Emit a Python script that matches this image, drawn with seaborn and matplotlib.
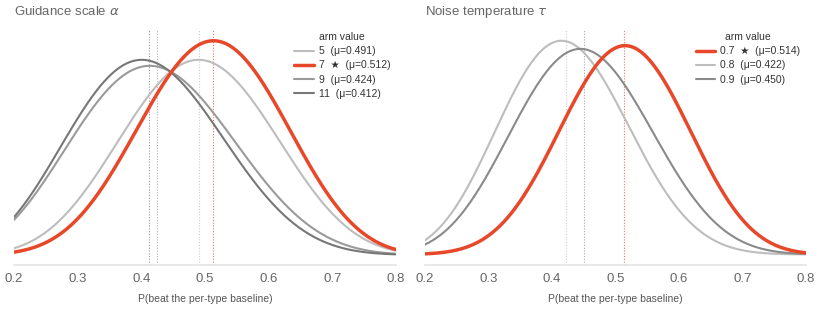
import math
import numpy as np
import pandas as pd
import matplotlib
matplotlib.use("Agg")
import matplotlib.pyplot as plt
import seaborn as sns

# ---- data ----
left_title = r"Guidance scale $\alpha$"
left_arms = ["5", "7", "9", "11"]
left_means = [0.491, 0.512, 0.424, 0.412]
left_conc = [18.2, 20.0, 16.3, 17.6]
left_peak = [0.911, 1.0, 0.883, 0.911]
left_best = "7"

right_title = r"Noise temperature $\tau$"
right_arms = ["0.7", "0.8", "0.9"]
right_means = [0.514, 0.422, 0.450]
right_conc = [26.0, 24.7, 21.9]
right_peak = [0.977, 1.0, 0.962]
right_best = "0.7"

xlabel = "P(beat the per-type baseline)"
xticks = [0.2, 0.3, 0.4, 0.5, 0.6, 0.7, 0.8]

RED = "#E8482A"
left_colors = ["#BDBDBD", RED, "#9A9A9A", "#777777"]
right_colors = [RED, "#BDBDBD", "#8A8A8A"]

sns.set_theme(style="white")
plt.rcParams["font.family"] = ["Liberation Sans", "DejaVu Sans"]
plt.rcParams["mathtext.fontset"] = "dejavusans"

xs = np.linspace(0.2, 0.8, 400)


def beta_shape(x, mu, k, peak):
    a, b = mu * k, (1 - mu) * k
    lnb = math.lgamma(a) + math.lgamma(b) - math.lgamma(a + b)
    pdf = np.exp((a - 1) * np.log(x) + (b - 1) * np.log(1 - x) - lnb)
    return peak * pdf / pdf.max()


def label_for(arm, mu, best):
    return f"{arm}  ★  (μ={mu:.3f})" if arm == best else f"{arm}  (μ={mu:.3f})"


fig = plt.figure(figsize=(8.2, 3.1), dpi=100)
ax1 = fig.add_axes([0.017, 0.145, 0.466, 0.758])
ax2 = fig.add_axes([0.518, 0.145, 0.465, 0.758])

for ax, title, arms, means, conc, peaks, best, colors in [
    (ax1, left_title, left_arms, left_means, left_conc, left_peak, left_best, left_colors),
    (ax2, right_title, right_arms, right_means, right_conc, right_peak, right_best, right_colors),
]:
    rows = []
    for arm, mu, k, p in zip(arms, means, conc, peaks):
        for x, y in zip(xs, beta_shape(xs, mu, k, p)):
            rows.append({"x": x, "density": y, "arm": label_for(arm, mu, best)})
    df = pd.DataFrame(rows)
    labels = [label_for(a, m, best) for a, m in zip(arms, means)]
    palette = dict(zip(labels, colors))
    sizes = {l: (2.5 if a == best else 1.5) for l, a in zip(labels, arms)}
    sns.lineplot(data=df, x="x", y="density", hue="arm", hue_order=labels,
                 palette=palette, size="arm", sizes=sizes, size_order=labels,
                 ax=ax, legend=True)
    for line, a in zip(ax.get_lines(), arms):
        if a == best:
            line.set_zorder(5)
    for a, mu, c in zip(arms, means, colors):
        ax.axvline(mu, color=c, lw=0.8, ls=(0, (1, 1.5)), alpha=0.75, zorder=1)
    ax.set_xlim(0.2, 0.8)
    ax.set_xticks(xticks)
    ax.set_xticklabels([f"{t:.1f}" for t in xticks], fontsize=9.5, color="#666666")
    ax.tick_params(axis="x", length=0, pad=6)
    ax.set_yticks([])
    ax.set_ylabel("")
    ax.set_xlabel(xlabel, fontsize=7.5, color="#555555", labelpad=6)
    ax.set_title(title, loc="left", fontsize=9.5, color="#666666", pad=11)
    for s in ["top", "right", "left"]:
        ax.spines[s].set_visible(False)
    ax.spines["bottom"].set_color("#e4e4e4")
    ax.spines["bottom"].set_linewidth(1.2)
    leg = ax.legend(title="arm value", loc="upper right", frameon=False,
                    fontsize=7.5, title_fontsize=7.5, handlelength=1.9,
                    handletextpad=0.45, labelspacing=0.4,
                    borderaxespad=0.1, borderpad=0.1,
                    bbox_to_anchor=(0.99, 1.0))
    for h, a, c in zip(leg.get_lines(), arms, colors):
        h.set_color(c)
        h.set_linewidth(2.5 if a == best else 1.5)
    for t in leg.get_texts():
        t.set_color("#333333")
    leg.get_title().set_color("#333333")

fig.savefig("out.png", dpi=100)
